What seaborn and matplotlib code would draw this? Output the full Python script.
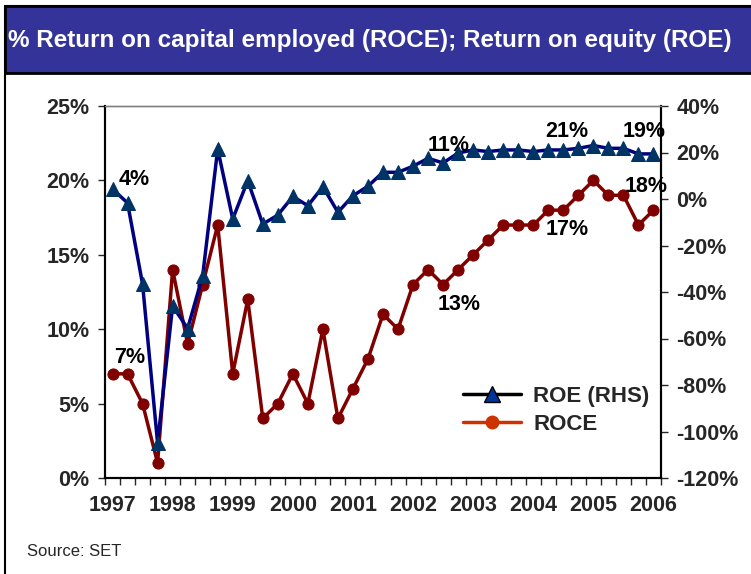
import numpy as np
import pandas as pd
import seaborn as sns
import matplotlib.pyplot as plt
from matplotlib.lines import Line2D
from matplotlib.patches import Rectangle

# ------------------------------
# data (quarterly, 1997 Q1 - 2006 Q1)
# ------------------------------
years = ["1997", "1998", "1999", "2000", "2001", "2002", "2003", "2004", "2005", "2006"]

# ROCE, % (left axis)
roce = [7, 7, 5, 1, 14, 9, 13, 17, 7, 12, 4, 5, 7, 5, 10, 4,
        6, 8, 11, 10, 13, 14, 13, 14, 15, 16, 17, 17, 17, 18, 18, 19,
        20, 19, 19, 17, 18]

# ROE, % (right axis)
roe = [4.3, -1.7, -36.6, -105, -46, -55.7, -33, 21.5, -8.6, 7.9, -10.8, -6.9, 1.1, -2.9, 5.3, -5.7,
       1.4, 5.5, 11.5, 11.5, 14.1, 17.5, 15.5, 19.8, 21.1, 20.4, 21.1, 21.1, 20.4, 21.1, 21.1, 21.8,
       23.0, 21.8, 21.8, 19.4, 19.4]

# (series, point index, text, dx px, dy px)
point_labels = [
    ("ROE", 0, "4%", 22, 10),
    ("ROCE", 0, "7%", 17, 16),
    ("ROE", 22, "11%", 6, 17),
    ("ROCE", 22, "13%", 16, -20),
    ("ROE", 30, "21%", 3, 18),
    ("ROE", 35, "19%", 6, 22),
    ("ROCE", 36, "18%", -7, 24),
    ("ROCE", 30, "17%", 4, -19),
]

df = pd.DataFrame({"q": np.arange(len(roce)), "ROCE": roce, "ROE": roe})

# ------------------------------
# style
# ------------------------------
sns.set_style("white")
plt.rcParams["font.family"] = ["Liberation Sans", "DejaVu Sans"]
plt.rcParams["font.weight"] = "bold"

fig = plt.figure(figsize=(7.51, 5.74), dpi=100)

# frame + title banner
fig.patches.append(Rectangle((0.0067, -0.1), 1.1, 1.0895, transform=fig.transFigure,
                             fill=False, edgecolor="black", lw=1.5, zorder=0))
fig.patches.append(Rectangle((0.0067, 0.8728), 1.1, 0.1167, transform=fig.transFigure,
                             facecolor="#333399", edgecolor="black", lw=2, zorder=1))
fig.text(0.011, 0.929, "% Return on capital employed (ROCE); Return on equity (ROE)",
         color="white", fontsize=17.5, fontweight="bold", va="center", ha="left")
fig.text(27 / 751, 1 - 552 / 574, "Source: SET", fontsize=12, fontweight="normal", va="center")

ax = fig.add_axes([105 / 751, 96 / 574, 556 / 751, 372 / 574])

sns.lineplot(data=df, x="q", y="ROCE", ax=ax, color="#800000", lw=2.5,
             marker="o", markersize=8, markerfacecolor="#800000", markeredgecolor="#800000")

ax2 = ax.twinx()
sns.lineplot(data=df, x="q", y="ROE", ax=ax2, color="#000080", lw=2.5,
             marker="^", markersize=10, markerfacecolor="#003366", markeredgecolor="#003366")

# axes
ax.set_xlim(-0.5, len(roce) - 0.5)
ax.set_ylim(0, 25)
ax2.set_ylim(-120, 40)
ax.set_yticks(range(0, 26, 5))
ax.set_yticklabels([f"{v}%" for v in range(0, 26, 5)])
ax2.set_yticks(range(-120, 41, 20))
ax2.set_yticklabels([f"{v}%" for v in range(-120, 41, 20)])
ax.set_xticks(range(0, len(roce), 4))
ax.set_xticklabels(years)
ax.set_xticks(np.arange(-0.5, len(roce), 1), minor=True)

ax.tick_params(axis="x", which="major", length=0, pad=12, labelsize=15.5)
ax.tick_params(axis="x", which="minor", bottom=True, length=5, width=1, direction="out")
ax.tick_params(axis="y", left=True, length=5, width=1, direction="out", labelsize=15.5, pad=6)
ax2.tick_params(axis="y", right=True, length=5, width=1, direction="out", labelsize=15.5, pad=6)

for a in (ax, ax2):
    a.set_xlabel("")
    a.set_ylabel("")
    a.spines["top"].set_color("#808080")
    a.spines["top"].set_linewidth(1)
    for s in ("left", "right", "bottom"):
        a.spines[s].set_color("black")
        a.spines[s].set_linewidth(1.5)

# point labels
for series, i, txt, dx, dy in point_labels:
    target = ax2 if series == "ROE" else ax
    vals = roe if series == "ROE" else roce
    target.annotate(txt, xy=(i, vals[i]), xytext=(dx, dy), textcoords="offset pixels",
                    ha="center", va="center", fontsize=15.5, fontweight="bold", color="black")

# legend
handles = [
    Line2D([], [], color="black", lw=2.5, marker="^", markersize=11,
           markerfacecolor="#003399", markeredgecolor="black"),
    Line2D([], [], color="#cc3300", lw=2.5, marker="o", markersize=9,
           markerfacecolor="#cc3300", markeredgecolor="#cc3300"),
]
ax2.legend(handles, ["ROE (RHS)", "ROCE"], loc="upper left", bbox_to_anchor=(0.624, 0.277),
           frameon=False, borderpad=0, handlelength=2.6, handletextpad=0.55,
           labelspacing=0.3, prop={"size": 16, "weight": "bold"})

plt.savefig("out.png", dpi=100)
